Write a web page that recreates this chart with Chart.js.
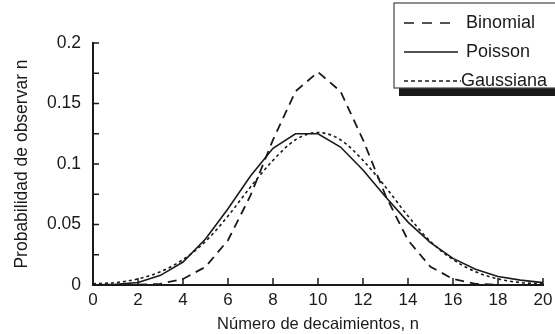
<!DOCTYPE html>
<html>
<head>
<meta charset="utf-8">
<script src="https://cdn.jsdelivr.net/npm/chart.js@4"></script>
<style>
  body { margin: 0; background: #fff; }
</style>
</head>
<body>
<canvas id="distgraph" width="555" height="334"></canvas>
<script>
const n = [0, 1, 2, 3, 4, 5, 6, 7, 8, 9, 10, 11, 12, 13, 14, 15, 16, 17, 18, 19, 20];
const binomial = [0, 0, 0.0002, 0.001, 0.005, 0.015, 0.037, 0.074, 0.120, 0.160, 0.176, 0.160, 0.120, 0.074, 0.037, 0.015, 0.005, 0.001, 0.0002, 0, 0];
const poisson = [0, 0.0005, 0.002, 0.008, 0.019, 0.038, 0.063, 0.090, 0.113, 0.125, 0.125, 0.114, 0.095, 0.073, 0.052, 0.035, 0.022, 0.013, 0.007, 0.004, 0.002];
const gaussiana = [0.001, 0.002, 0.005, 0.011, 0.021, 0.036, 0.057, 0.081, 0.103, 0.120, 0.126, 0.120, 0.103, 0.081, 0.057, 0.036, 0.021, 0.011, 0.005, 0.002, 0.001];
const yLabels = { 0: '0', 0.05: '0.05', 0.1: '0.1', 0.15: '0.15', 0.2: '0.2' };

const ink = '#1a1a1a';
const font = "'Liberation Sans', Arial, sans-serif";

function pts(values) {
    return n.map((x, i) => ({ x: x, y: values[i] }));
}

// tick marks pointing into the plot, like the printed figure
const innerTicks = {
    id: 'innerTicks',
    afterDatasetsDraw(chart) {
        const c = chart.ctx;
        const xs = chart.scales.x, ys = chart.scales.y;
        c.save();
        c.strokeStyle = ink;
        c.lineWidth = 1.5;
        c.beginPath();
        xs.ticks.forEach(t => {
            const px = xs.getPixelForValue(t.value);
            c.moveTo(px, ys.bottom);
            c.lineTo(px, ys.bottom - 7);
        });
        ys.ticks.forEach(t => {
            const py = ys.getPixelForValue(t.value);
            c.moveTo(xs.left, py);
            c.lineTo(xs.left + 6, py);
        });
        c.stroke();
        c.restore();
    }
};

// boxed legend with a drop shadow in the top right corner
const boxLegend = {
    id: 'boxLegend',
    afterDraw(chart) {
        const c = chart.ctx;
        c.save();
        c.fillStyle = ink;
        c.fillRect(399, 88, 160, 8);
        c.fillStyle = '#fff';
        c.fillRect(394, 3, 170, 85);
        c.strokeStyle = '#444';
        c.lineWidth = 1.2;
        c.strokeRect(394, 3, 170, 85);

        const rows = [
            { y: 23, x1: 404, x2: 451, tx: 466 },
            { y: 52, x1: 404, x2: 458, tx: 466 },
            { y: 81, x1: 404, x2: 461, tx: 461 }
        ];
        chart.data.datasets.forEach((ds, i) => {
            const r = rows[i];
            c.strokeStyle = ink;
            c.lineWidth = 1.6;
            c.setLineDash(ds.legendDash);
            c.beginPath();
            c.moveTo(r.x1, r.y);
            c.lineTo(r.x2, r.y);
            c.stroke();
            c.setLineDash([]);
            c.fillStyle = ink;
            c.font = '18px ' + font;
            c.textBaseline = 'middle';
            c.fillText(ds.label, r.tx, r.y);
        });
        c.restore();
    }
};

const ctx = document.getElementById('distgraph').getContext('2d');
const distChart = new Chart(ctx, {
    type: 'line',
    data: {
        datasets: [{
            label: 'Binomial',
            data: pts(binomial),
            borderColor: ink,
            borderWidth: 1.8,
            borderDash: [9, 6],
            legendDash: [10, 8],
            pointRadius: 0,
            tension: 0
        }, {
            label: 'Poisson',
            data: pts(poisson),
            borderColor: ink,
            borderWidth: 1.6,
            legendDash: [],
            pointRadius: 0,
            tension: 0
        }, {
            label: 'Gaussiana',
            data: pts(gaussiana),
            borderColor: ink,
            borderWidth: 1.6,
            borderDash: [3, 3],
            legendDash: [4, 3],
            pointRadius: 0,
            cubicInterpolationMode: 'monotone'
        }]
    },
    options: {
        responsive: false,
        animation: false,
        layout: { padding: { top: 43, right: 0, left: 0, bottom: 0 } },
        plugins: {
            legend: { display: false },
            tooltip: { enabled: false }
        },
        scales: {
            x: {
                type: 'linear',
                min: 0,
                max: 20,
                grid: { display: false, drawTicks: false },
                border: { display: true, color: ink, width: 2 },
                ticks: {
                    stepSize: 2,
                    color: ink,
                    padding: 5,
                    font: { family: font, size: 17 }
                },
                title: {
                    display: true,
                    text: 'Número de decaimientos, n',
                    color: ink,
                    padding: { top: 1, bottom: 0 },
                    font: { family: font, size: 16.5 }
                },
                afterFit: s => { s.height = 49; s.paddingRight = 12; }
            },
            y: {
                min: 0,
                max: 0.2,
                grid: { display: false, drawTicks: false },
                border: { display: true, color: ink, width: 2 },
                ticks: {
                    stepSize: 0.025,
                    color: ink,
                    padding: 12,
                    font: { family: font, size: 17.5 },
                    callback: v => yLabels[Math.round(v * 1000) / 1000] || ''
                },
                title: {
                    display: true,
                    text: 'Probabilidad de observar n',
                    color: ink,
                    padding: { top: 12, bottom: 0 },
                    font: { family: font, size: 17.5 }
                },
                afterFit: s => { s.width = 93; }
            }
        }
    },
    plugins: [innerTicks, boxLegend]
});
</script>
</body>
</html>
